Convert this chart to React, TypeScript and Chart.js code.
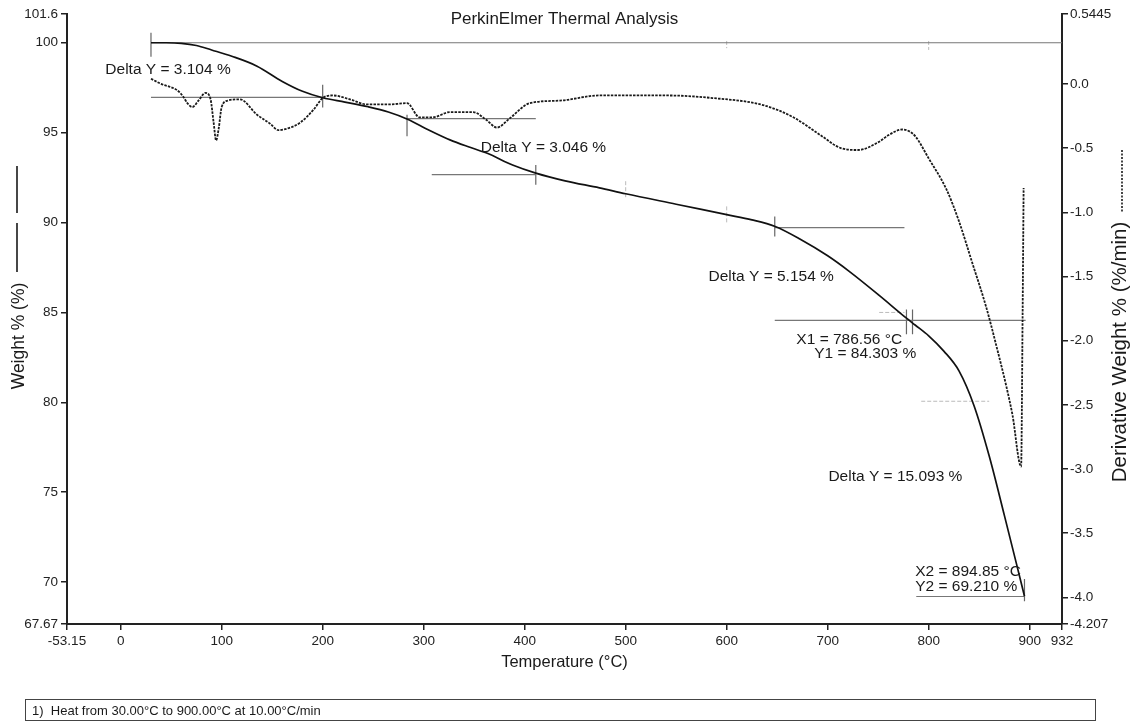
import React, { useEffect, useRef } from "react";
import { Chart, registerables } from "chart.js";

Chart.register(...registerables);

// ---- Data ----
const weightTemp = [30, 45, 60, 75, 90, 110, 135, 160, 180, 200, 222, 245, 265, 284, 305, 326, 345, 363, 388, 411, 440, 474, 500, 550, 600, 625, 648, 672, 700, 721, 751, 778, 786.56, 800, 815, 830, 845, 860, 875, 887, 894.85];
const weightPct = [100.0, 100.0, 99.97, 99.85, 99.6, 99.25, 98.7, 97.85, 97.3, 96.94, 96.7, 96.44, 96.15, 95.75, 95.15, 94.6, 94.2, 93.85, 93.2, 92.75, 92.32, 91.93, 91.6, 91.02, 90.44, 90.15, 89.78, 89.1, 88.15, 87.3, 85.95, 84.68, 84.3, 83.7, 82.85, 81.75, 79.8, 77.0, 73.7, 71.0, 69.21];

const derivTemp = [30, 40, 56, 62, 66, 71, 77, 84, 89, 92, 94.5, 97, 100, 106, 118, 135, 148, 156, 168, 178, 191, 200, 210, 227, 244, 265, 283.5, 296, 309, 326, 349, 362, 372.5, 385, 405, 435, 474, 498, 540, 586, 636, 666, 693, 713, 730, 751, 760, 774, 781, 787, 800, 817.5, 830, 843, 857, 867, 877, 883, 891.5, 893, 894];
const derivRate = [0.04, 0.0, -0.05, -0.10, -0.15, -0.18, -0.13, -0.07, -0.12, -0.30, -0.44, -0.35, -0.18, -0.13, -0.12, -0.24, -0.31, -0.36, -0.34, -0.30, -0.20, -0.11, -0.09, -0.12, -0.16, -0.16, -0.15, -0.26, -0.26, -0.22, -0.22, -0.28, -0.34, -0.27, -0.15, -0.13, -0.09, -0.09, -0.09, -0.11, -0.165, -0.26, -0.40, -0.50, -0.515, -0.45, -0.40, -0.355, -0.37, -0.41, -0.58, -0.82, -1.07, -1.39, -1.74, -2.04, -2.36, -2.58, -2.98, -1.8, -0.81];

const xTickValues = [-53.15, 0, 100, 200, 300, 400, 500, 600, 700, 800, 900, 932];
const xTickLabels = ["-53.15", "0", "100", "200", "300", "400", "500", "600", "700", "800", "900", "932"];
const yTickValues = [67.67, 70, 75, 80, 85, 90, 95, 100, 101.6];
const yTickLabels = ["67.67", "70", "75", "80", "85", "90", "95", "100", "101.6"];
const y2TickValues = [-4.207, -4.0, -3.5, -3.0, -2.5, -2.0, -1.5, -1.0, -0.5, 0.0, 0.5445];
const y2TickLabels = ["-4.207", "-4.0", "-3.5", "-3.0", "-2.5", "-2.0", "-1.5", "-1.0", "-0.5", "0.0", "0.5445"];

// horizontal analysis lines: [tStart, tEnd, weight]
const analysisLines: [number, number, number][] = [
  [30, 932, 100.0],
  [30, 200, 96.96],
  [283.5, 411, 95.78],
  [308, 411, 92.67],
  [647.6, 776, 89.72],
  [647.6, 896, 84.56],
  [787.7, 894.85, 69.2],
];
// vertical cursor ticks: [t, wTop, wBottom]
const cursorTicks: [number, number, number][] = [
  [30, 100.56, 99.22],
  [200, 97.67, 96.4],
  [283.5, 96.0, 94.8],
  [411, 93.2, 92.1],
  [647.6, 90.33, 89.22],
  [778, 85.17, 83.78],
  [784, 85.17, 83.78],
  [894.85, 70.17, 68.94],
];
const faintTicks: [number, number, number][] = [
  [500, 92.3, 91.4],
  [600, 90.9, 89.9],
  [600, 100.1, 99.7],
  [800, 100.1, 99.6],
];
const faintLines: [number, number, number][] = [
  [751, 776, 85.0],
  [792.6, 859.9, 80.06],
];

// text annotations placed in data coordinates: [text, t, weight]
const annotationTexts: [string, number, number][] = [
  ["Delta Y = 3.104 %", -15.2, 98.5],
  ["Delta Y = 3.046 %", 356.5, 94.17],
  ["Delta Y = 5.154 %", 582, 87.0],
  ["X1 = 786.56 °C", 669, 83.5],
  ["Y1 = 84.303 %", 686.6, 82.72],
  ["Delta Y = 15.093 %", 700.7, 75.89],
  ["X2 = 894.85 °C", 786.6, 70.56],
  ["Y2 = 69.210 %", 786.6, 69.72],
];

const chartTitle = "PerkinElmer Thermal Analysis";
const xTitle = "Temperature (°C)";
const yTitle = "Weight % (%)";
const y2Title = "Derivative Weight % (%/min)";
const methodText = "1)  Heat from 30.00°C to 900.00°C at 10.00°C/min";

const FONT = "'Liberation Sans', Arial, Helvetica, sans-serif";

function hSegs(list: [number, number, number][]) {
  const out: any[] = [];
  list.forEach(([a, b, w]) => {
    out.push({ x: a, y: w }, { x: b, y: w }, { x: b, y: null });
  });
  return out;
}
function vSegs(list: [number, number, number][]) {
  const out: any[] = [];
  list.forEach(([t, w1, w2]) => {
    out.push({ x: t, y: w1 }, { x: t, y: w2 }, { x: t, y: null });
  });
  return out;
}

const textPlugin = {
  id: "textPlugin",
  afterDraw(chart: any) {
    const { ctx, scales } = chart;
    const xs = scales.x;
    const ys = scales.y;
    const area = chart.chartArea;
    const cx = (area.left + area.right) / 2;
    ctx.save();
    ctx.fillStyle = "#1a1a1a";
    ctx.strokeStyle = "#1a1a1a";
    // title
    ctx.font = `17px ${FONT}`;
    ctx.textAlign = "center";
    ctx.textBaseline = "middle";
    ctx.fillText(chartTitle, cx, 19);
    // x title
    ctx.font = `16.5px ${FONT}`;
    ctx.fillText(xTitle, cx, 662);
    // annotations
    ctx.font = `15.5px ${FONT}`;
    ctx.textAlign = "left";
    annotationTexts.forEach(([txt, t, w]) => {
      ctx.fillText(txt, xs.getPixelForValue(t), ys.getPixelForValue(w));
    });
    // left axis title
    ctx.save();
    ctx.translate(19, 336);
    ctx.rotate(-Math.PI / 2);
    ctx.font = `17.5px ${FONT}`;
    ctx.textAlign = "center";
    ctx.fillText(yTitle, 0, 0);
    ctx.restore();
    ctx.lineWidth = 1.6;
    ctx.beginPath();
    ctx.moveTo(17, 166);
    ctx.lineTo(17, 213);
    ctx.moveTo(17, 223);
    ctx.lineTo(17, 272);
    ctx.stroke();
    // right axis title
    ctx.save();
    ctx.translate(1120, 352);
    ctx.rotate(-Math.PI / 2);
    ctx.font = `20.5px ${FONT}`;
    ctx.textAlign = "center";
    ctx.fillText(y2Title, 0, 0);
    ctx.restore();
    ctx.save();
    ctx.setLineDash([2, 1.5]);
    ctx.lineWidth = 1.6;
    ctx.beginPath();
    ctx.moveTo(1122, 150);
    ctx.lineTo(1122, 212);
    ctx.stroke();
    ctx.restore();
    // method box
    ctx.lineWidth = 1;
    ctx.strokeStyle = "#444";
    ctx.strokeRect(25.5, 699.5, 1070, 21);
    ctx.font = `13px ${FONT}`;
    ctx.textAlign = "left";
    ctx.fillText(methodText, 32, 711);
    ctx.restore();
  },
};

export default function App() {
  const ref = useRef<HTMLCanvasElement | null>(null);
  useEffect(() => {
    if (!ref.current) return;
    const tickFont = { family: FONT, size: 13.5 };
    const chart = new Chart(ref.current, {
      type: "line",
      data: {
        datasets: [
          {
            label: "Weight %",
            data: weightTemp.map((t, i) => ({ x: t, y: weightPct[i] })),
            borderColor: "#111",
            borderWidth: 1.7,
            pointRadius: 0,
            cubicInterpolationMode: "monotone",
            yAxisID: "y",
            order: 1,
          },
          {
            label: "Derivative Weight %",
            data: derivTemp.map((t, i) => ({ x: t, y: derivRate[i] })),
            borderColor: "#1a1a1a",
            borderWidth: 1.8,
            borderDash: [2.5, 1.2],
            pointRadius: 0,
            cubicInterpolationMode: "monotone",
            yAxisID: "y2",
            order: 2,
          },
          {
            label: "lines",
            data: hSegs(analysisLines),
            borderColor: "#777",
            borderWidth: 1.2,
            pointRadius: 0,
            yAxisID: "y",
            order: 3,
          },
          {
            label: "ticks",
            data: vSegs(cursorTicks),
            borderColor: "#666",
            borderWidth: 1.2,
            pointRadius: 0,
            yAxisID: "y",
            order: 3,
          },
          {
            label: "faint",
            data: [...vSegs(faintTicks), ...hSegs(faintLines)],
            borderColor: "#bbb",
            borderWidth: 1,
            borderDash: [4, 2],
            pointRadius: 0,
            yAxisID: "y",
            order: 4,
          },
        ] as any,
      },
      options: {
        animation: false,
        responsive: false,
        maintainAspectRatio: false,
        layout: { padding: { top: 14, left: 0, right: 0, bottom: 0 } },
        plugins: { legend: { display: false }, tooltip: { enabled: false }, title: { display: false } },
        elements: { line: { tension: 0 } },
        scales: {
          x: {
            type: "linear",
            min: -53.15,
            max: 932,
            afterBuildTicks: (s: any) => {
              s.ticks = xTickValues.map((v) => ({ value: v }));
            },
            afterFit: (s: any) => {
              s.height = 100;
            },
            ticks: {
              autoSkip: false,
              maxRotation: 0,
              font: tickFont,
              color: "#222",
              padding: 3,
              callback: (_v: any, i: number) => xTickLabels[i],
            },
            grid: { drawOnChartArea: false, drawTicks: true, tickLength: 6, color: "#222", lineWidth: 1.5 },
            border: { display: true, color: "#222", width: 2 },
          },
          y: {
            type: "linear",
            position: "left",
            min: 67.67,
            max: 101.6,
            afterBuildTicks: (s: any) => {
              s.ticks = yTickValues.map((v) => ({ value: v }));
            },
            afterFit: (s: any) => {
              s.width = 67;
            },
            ticks: {
              autoSkip: false,
              font: tickFont,
              color: "#222",
              padding: 3,
              callback: (_v: any, i: number) => yTickLabels[i],
            },
            grid: { drawOnChartArea: false, drawTicks: true, tickLength: 6, color: "#222", lineWidth: 1.5 },
            border: { display: true, color: "#222", width: 2 },
          },
          y2: {
            type: "linear",
            position: "right",
            min: -4.207,
            max: 0.5445,
            afterBuildTicks: (s: any) => {
              s.ticks = y2TickValues.map((v) => ({ value: v }));
            },
            afterFit: (s: any) => {
              s.width = 69;
            },
            ticks: {
              autoSkip: false,
              font: tickFont,
              color: "#222",
              padding: 2,
              callback: (_v: any, i: number) => y2TickLabels[i],
            },
            grid: { drawOnChartArea: false, drawTicks: true, tickLength: 6, color: "#222", lineWidth: 1.5 },
            border: { display: true, color: "#222", width: 2 },
          },
        },
      } as any,
      plugins: [textPlugin],
    });
    return () => chart.destroy();
  }, []);
  return (
    <div style={{ position: "fixed", left: 0, top: 0, width: 1131, height: 724, background: "#fff" }}>
      <canvas ref={ref} width={1131} height={724} style={{ width: 1131, height: 724, display: "block" }} />
    </div>
  );
}
